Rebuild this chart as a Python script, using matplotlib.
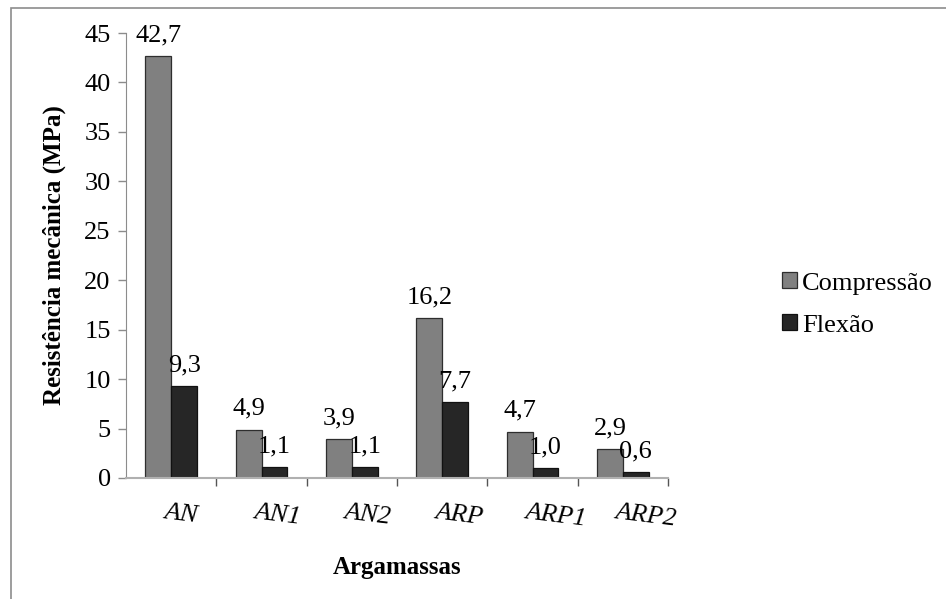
import numpy as np
import matplotlib
matplotlib.use('Agg')
from matplotlib import pyplot as plt
from matplotlib.patches import Rectangle

plt.rcParams['font.family'] = ['Liberation Serif', 'DejaVu Serif']

categories = ['AN', 'AN1', 'AN2', 'ARP', 'ARP1', 'ARP2']
compressao = [42.7, 4.9, 3.9, 16.2, 4.7, 2.9]
flexao = [9.3, 1.1, 1.1, 7.7, 1.0, 0.6]

fig = plt.figure(figsize=(9.46, 5.99), dpi=100)
# thin frame around the chart area (only top/left visible in original)
fig.patches.append(Rectangle((11 / 946, -0.1), 1.2, 1.1 - 8 / 599,
                             transform=fig.transFigure, fill=False,
                             edgecolor='#8c8c8c', linewidth=1.2))

ax = fig.add_axes([126 / 946, 1 - 478 / 599, (668 - 126) / 946, (478 - 33) / 599])

x = np.arange(len(categories))
w = 1 / 3.5
b1 = ax.bar(x - w / 2, compressao, w, color='#808080', edgecolor='#2e2e2e',
            linewidth=0.9, label='Compressão')
b2 = ax.bar(x + w / 2, flexao, w, color='#262626', edgecolor='#111111',
            linewidth=0.9, label='Flexão')

fs = 19
for bars, vals in ((b1, compressao), (b2, flexao)):
    for r, v in zip(bars, vals):
        ax.annotate(f'{v:.1f}'.replace('.', ','),
                    (r.get_x() + r.get_width() / 2, v),
                    xytext=(0, 7), textcoords='offset points',
                    ha='center', va='bottom', fontsize=fs)

ax.set_xlim(-0.5, len(categories) - 0.5)
ax.set_ylim(0, 45)
ax.set_yticks(range(0, 46, 5))
ax.tick_params(axis='y', labelsize=fs, length=6, width=1, color='#8c8c8c',
               direction='out', pad=5)

# ticks between categories, labels as separate rotated text
ax.set_xticks(np.arange(len(categories)) + 0.5)
ax.set_xticklabels([])
ax.tick_params(axis='x', length=6, width=1, color='#555555', direction='out')
for i, c in enumerate(categories):
    ax.text(i - 0.08, -3.4, c, fontsize=fs, style='italic', rotation=-7,
            rotation_mode='anchor', ha='left', va='center',
            transform=ax.transData, clip_on=False)

for s in ('top', 'right'):
    ax.spines[s].set_visible(False)
ax.spines['left'].set_color('#8c8c8c')
ax.spines['bottom'].set_color('#b0b0b0')
ax.spines['bottom'].set_linewidth(1.5)

ax.set_xlabel('Argamassas', fontsize=18, fontweight='bold', labelpad=47)
ax.set_ylabel('Resistência mecânica (MPa)', fontsize=18, fontweight='bold',
              labelpad=13)

ax.legend(loc='center left', bbox_to_anchor=(1.167, 0.39), frameon=False,
          fontsize=fs, handlelength=0.55, handleheight=0.55, handletextpad=0.2,
          labelspacing=0.75)

plt.savefig('out.png', dpi=100)
